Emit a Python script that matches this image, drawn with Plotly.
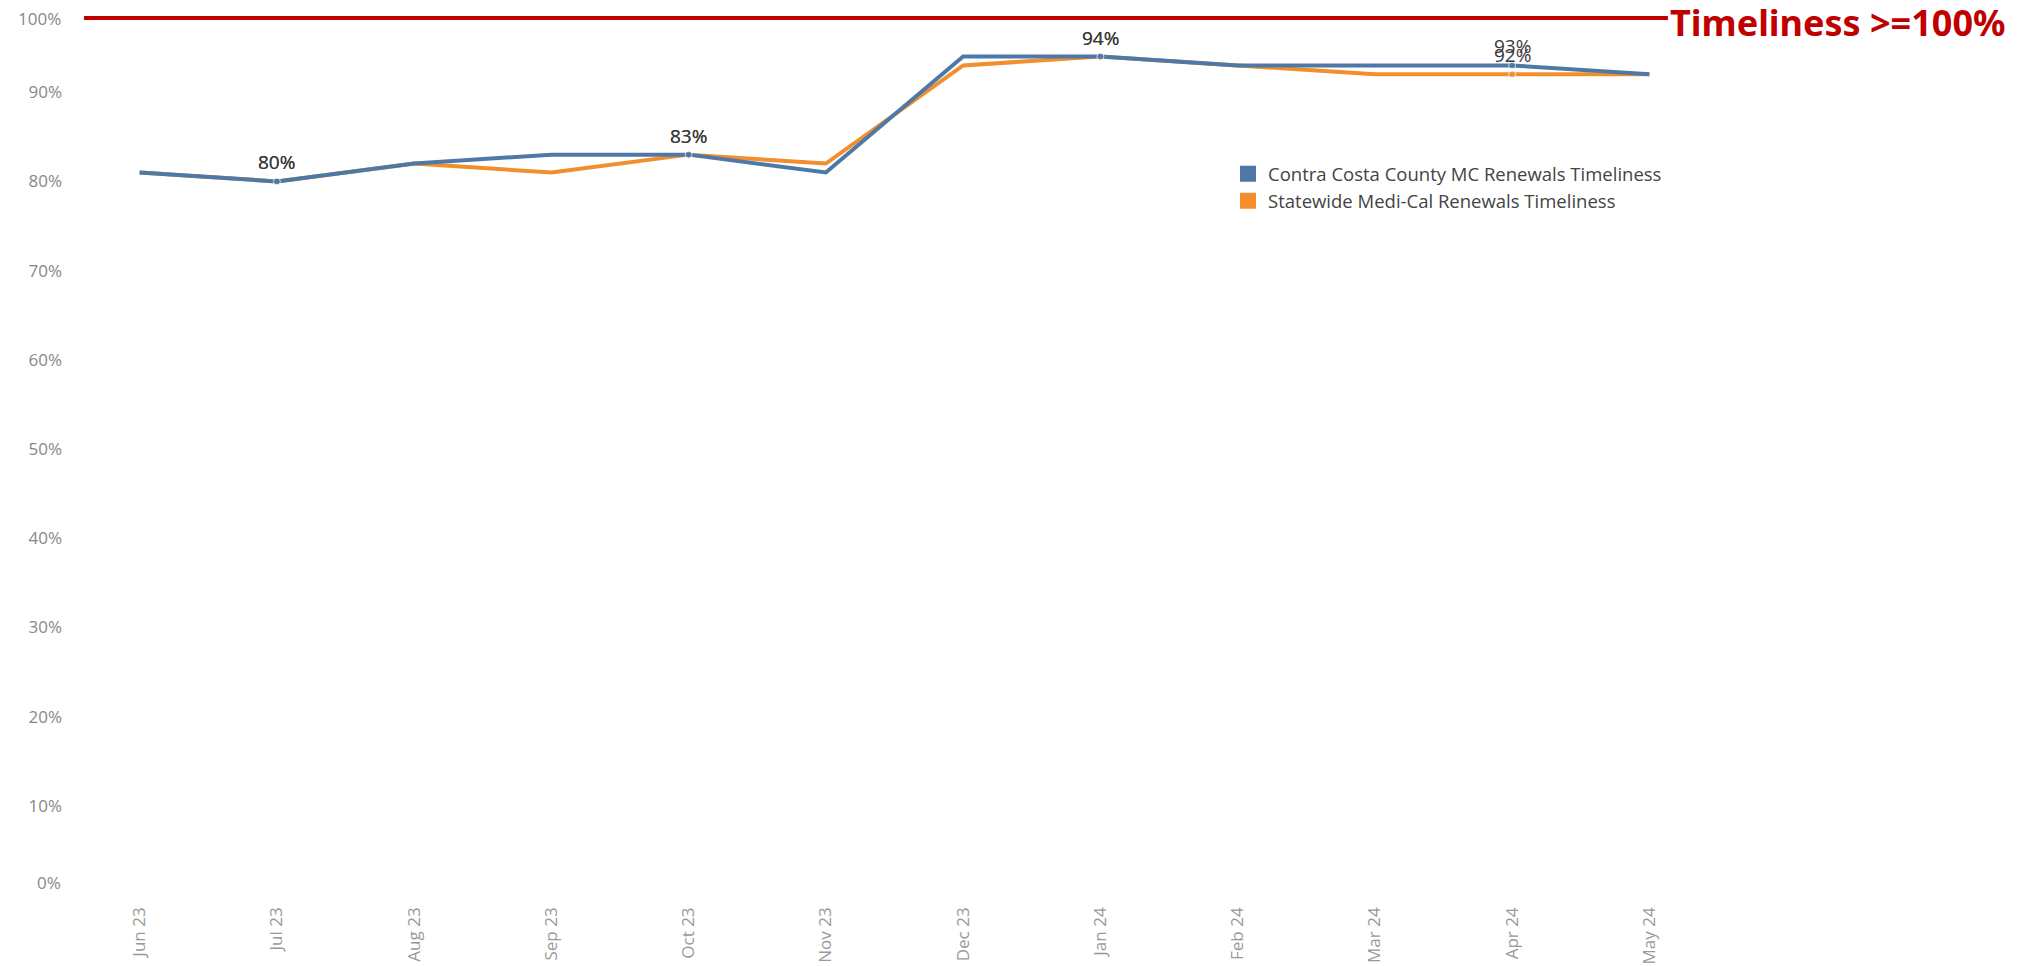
import plotly.graph_objects as go

months = ["Jun 23", "Jul 23", "Aug 23", "Sep 23", "Oct 23", "Nov 23",
          "Dec 23", "Jan 24", "Feb 24", "Mar 24", "Apr 24", "May 24"]
county = [81, 80, 82, 83, 83, 81, 94, 94, 93, 93, 93, 92]
statewide = [81, 80, 82, 81, 83, 82, 93, 94, 93, 92, 92, 92]
labeled_idx = [1, 4, 7, 10]   # every third month carries a label + dot
target = 100

BLUE = "#4E79A7"
ORANGE = "#F28E2B"
RED = "#C00000"
FONT = "Open Sans"

# page has an 8px body margin, so the figure is sized to fit inside it
W, H = 2025, 958
PLOT_H = 887
PX_PER_PCT = 8.92
y_top = 100 - 5 / PX_PER_PCT   # 100% sits just above the pane top in the slide

fig = go.Figure()

for name, vals, color in [("Statewide Medi-Cal Renewals Timeliness", statewide, ORANGE),
                          ("Contra Costa County MC Renewals Timeliness", county, BLUE)]:
    sizes = [7 if i in labeled_idx else 0 for i in range(len(months))]
    fig.add_trace(go.Scatter(
        x=months, y=vals, mode="lines+markers", name=name,
        line=dict(color=color, width=4),
        marker=dict(color=color, size=sizes),
        showlegend=False, hoverinfo="x+y",
    ))

# legend entries as squares (Tableau style)
for name, color in [("Contra Costa County MC Renewals Timeliness", BLUE),
                    ("Statewide Medi-Cal Renewals Timeliness", ORANGE)]:
    fig.add_trace(go.Scatter(
        x=[None], y=[None], mode="markers", name=name,
        marker=dict(symbol="square", size=17, color=color),
    ))

# point labels
for vals in (statewide, county):
    for i in labeled_idx:
        fig.add_annotation(x=months[i], y=vals[i], text=f"{vals[i]}%",
                           showarrow=False, yshift=19,
                           font=dict(family=FONT, size=19, color="#3a3a3a"))

# end tick labels are pulled inside the pane
fig.add_annotation(x=0, xref="paper", y=1, yref="y domain", text=f"{target}%",
                   showarrow=False, xanchor="right", yanchor="middle",
                   xshift=-8, yshift=-10,
                   font=dict(family=FONT, size=17, color="#888888"))
fig.add_annotation(x=0, xref="paper", y=0, yref="y", text="0%", showarrow=False,
                   xanchor="right", yanchor="middle", xshift=-8, yshift=13,
                   font=dict(family=FONT, size=17, color="#888888"))

# target line overlay
fig.add_shape(type="line", xref="paper", x0=0.0079, x1=0.9696,
              yref="y", ysizemode="pixel", yanchor=target, y0=-15, y1=-15,
              line=dict(color=RED, width=4))
fig.add_annotation(x=0.9696, xref="paper", y=1, yref="y domain", yshift=-14,
                   text=f"Timeliness >={target}%", showarrow=False,
                   xanchor="left", yanchor="middle",
                   font=dict(family="Noto Sans", size=36, color=RED, weight="bold"))

fig.update_layout(
    width=W, height=H,
    margin=dict(l=63, r=315, t=0, b=H - PLOT_H),
    paper_bgcolor="white", plot_bgcolor="white",
    font=dict(family=FONT, color="#888888"),
    xaxis=dict(type="category", range=[-0.5, 11.5], showgrid=False, zeroline=False,
               showline=False, ticks="", tickangle=-90, ticklabelstandoff=8,
               tickfont=dict(size=17, color="#999999")),
    yaxis=dict(range=[0, y_top], tickvals=[10, 20, 30, 40, 50, 60, 70, 80, 90],
               ticktext=[f"{v}%" for v in range(10, 100, 10)],
               showgrid=False, zeroline=False, showline=False, ticks="",
               ticklabelstandoff=8, tickfont=dict(size=17, color="#888888")),
    legend=dict(x=0.7025, y=0.834, xanchor="left", yanchor="top",
                font=dict(family=FONT, size=18.5, color="#444444"),
                tracegroupgap=0, itemwidth=30, bgcolor="rgba(0,0,0,0)"),
)

fig.write_html("out.html")
